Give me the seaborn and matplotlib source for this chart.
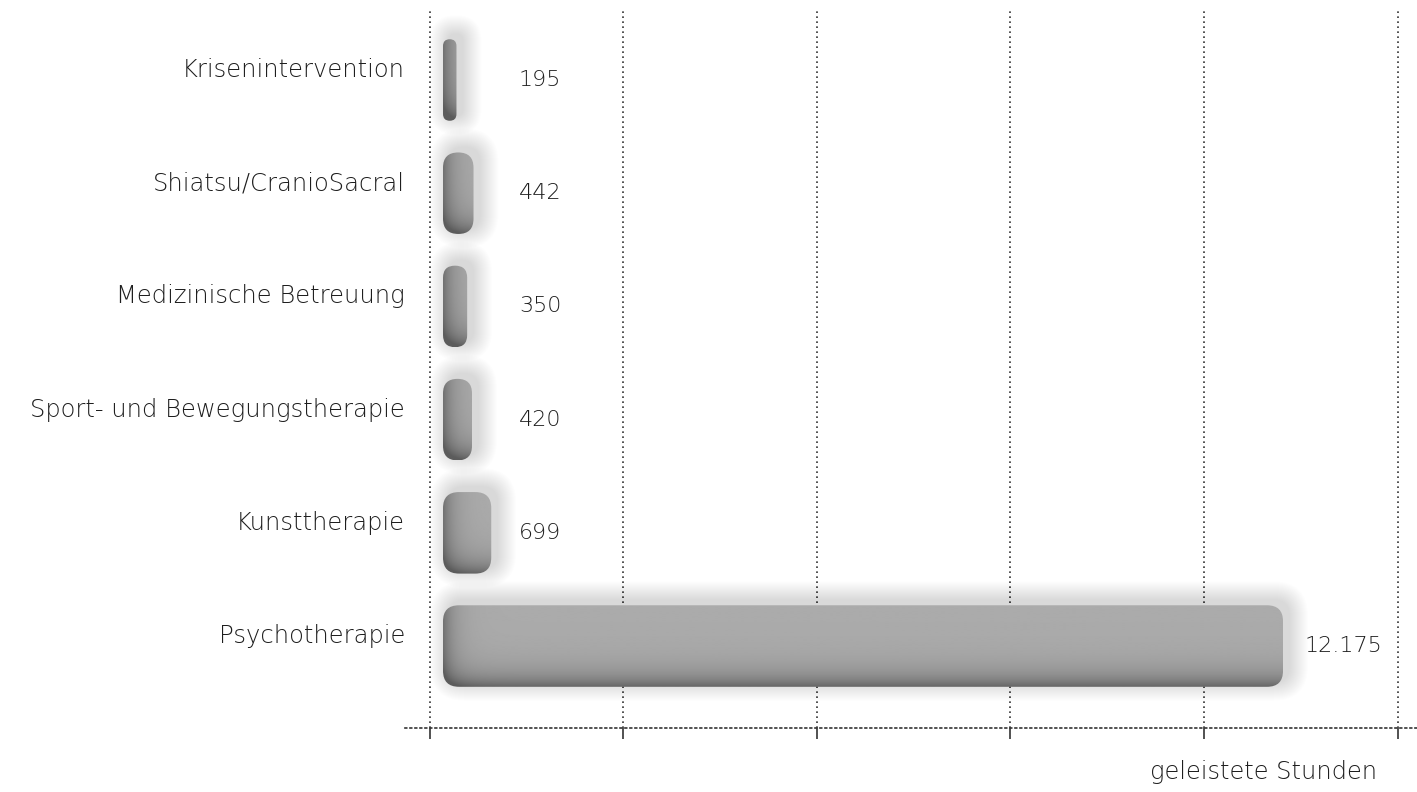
import numpy as np
import pandas as pd
import matplotlib.pyplot as plt
import seaborn as sns
from matplotlib.patches import FancyBboxPatch
from matplotlib.transforms import ScaledTranslation

# Daten
kategorien = ['Krisenintervention', 'Shiatsu/CranioSacral', 'Medizinische Betreuung',
              'Sport- und Bewegungstherapie', 'Kunsttherapie', 'Psychotherapie']
stunden = [195, 442, 350, 420, 699, 12175]
wert_labels = ['195', '442', '350', '420', '699', '12.175']
x_titel = 'geleistete Stunden'

TEXT = '#1e1e1e'

sns.set_theme(style='white')
plt.rcParams['font.family'] = ['DejaVu Sans']
plt.rcParams['font.weight'] = 'light'

W, H = 1417, 792
fig = plt.figure(figsize=(W / 100, H / 100), dpi=100)
ax = fig.add_axes([405 / W, (H - 728) / H, 1012 / W, 720 / H])

df = pd.DataFrame({'kategorie': kategorien, 'stunden': stunden})
sns.barplot(data=df, x='stunden', y='kategorie', orient='h', color='#aaaaaa',
            width=0.72, ax=ax)

ax.set_xlim(-551, 14117)
ax.set_ylim(5.724, -0.636)

# Einheiten pro Pixel
p0 = ax.transData.transform((0, 0))
p1 = ax.transData.transform((1000, 1))
sx = 1000 / abs(p1[0] - p0[0])
sy = 1 / abs(p1[1] - p0[1])
aspect = sy / sx

# Balken ersetzen: abgerundet, mit Verlauf und Schatten
bars = list(ax.patches)
for bar in bars:
    x0, y0 = bar.get_x(), bar.get_y()
    w, h = bar.get_width(), bar.get_height()
    bar.remove()
    wp, hp = w / sx, h / sy
    r_px = min(16, wp / 2)

    # Schatten (nach rechts oben versetzt)
    for k in range(1, 20):
        ex = k * sx
        ey = k * sy
        sh = FancyBboxPatch((x0 - ex + 6 * sx, y0 - ey - 5 * sy), w + 2 * ex, h + 2 * ey,
                            boxstyle=f'round,pad=0,rounding_size={(r_px + k) * sx}',
                            mutation_aspect=aspect, facecolor='black', edgecolor='none',
                            alpha=0.008, zorder=2)
        ax.add_patch(sh)

    patch = FancyBboxPatch((x0, y0), w, h,
                           boxstyle=f'round,pad=0,rounding_size={r_px * sx}',
                           mutation_aspect=aspect, facecolor='none', edgecolor='none',
                           zorder=3)
    ax.add_patch(patch)

    nx, ny = max(int(wp), 2), max(int(hp), 2)
    xs = np.arange(nx)
    yb = np.arange(ny)[::-1]
    L = 0.67 - 0.22 * np.exp(-xs / 11.0)[None, :] - 0.27 * np.exp(-yb / 13.0)[:, None]
    L = np.clip(L, 0.36, 1)
    im = ax.imshow(L, cmap='gray', vmin=0, vmax=1, aspect='auto', interpolation='bilinear',
                   extent=(x0, x0 + w, y0 + h, y0), origin='upper', zorder=3)
    im.set_clip_path(patch)

ax.set_xlim(-551, 14117)
ax.set_ylim(5.724, -0.636)

# Wertbeschriftungen
for i, (v, lab) in enumerate(zip(stunden, wert_labels)):
    xt = max(v + 22 * sx, 76 * sx)
    ax.text(xt, i, lab, ha='left', va='center', fontsize=16, color=TEXT, zorder=5)

# Achsen
ax.set_xticks(np.arange(-190, 14000, 2805))
ax.set_xticklabels([])
ax.set_axisbelow(True)
ax.grid(axis='x', color='#333333', linestyle=(0, (1, 2)), linewidth=1.2)
ax.grid(axis='y', visible=False)
ax.tick_params(axis='x', bottom=True, length=8, width=1.2, color='#333333', direction='out')
ax.tick_params(axis='y', length=0, pad=0, labelsize=17.5, labelcolor=TEXT)
for lbl in ax.get_yticklabels():
    lbl.set_transform(lbl.get_transform() + ScaledTranslation(0, 9 / 72, fig.dpi_scale_trans))

for s in ['left', 'right', 'top']:
    ax.spines[s].set_visible(False)
ax.spines['bottom'].set_linestyle((0, (1, 2)))
ax.spines['bottom'].set_linewidth(1.2)
ax.spines['bottom'].set_color('#333333')

ax.set_ylabel('')
ax.set_xlabel(x_titel, fontsize=17.4, color=TEXT, fontweight='light')
ax.xaxis.set_label_coords((1377 - 405) / 1012, (728 - 760) / 720)
ax.xaxis.label.set_ha('right')
ax.xaxis.label.set_va('top')

fig.savefig('out.png', dpi=100, facecolor='white')
